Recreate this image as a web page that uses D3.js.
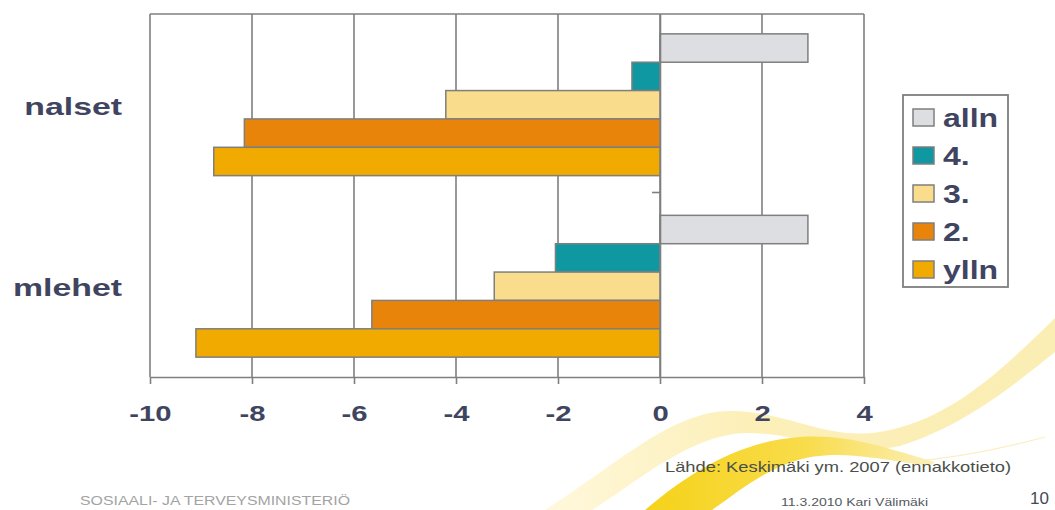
<!DOCTYPE html>
<html>
<head>
<meta charset="utf-8">
<script src="https://cdn.jsdelivr.net/npm/d3@7"></script>
<style>
  html, body { margin: 0; padding: 0; background: #ffffff; }
  svg { display: block; }
</style>
</head>
<body>
<svg id="chart" width="1055" height="510"></svg>
<script>
// Categories (top to bottom) and series (top to bottom within each group)
const categories = ["nalset", "mlehet"];
const series = ["alln", "4.", "3.", "2.", "ylln"];
// Values per series, in category order
const valuesAlln = [2.9, 2.9];
const values4 = [-0.55, -2.05];
const values3 = [-4.2, -3.25];
const values2 = [-8.15, -5.65];
const valuesYlln = [-8.75, -9.1];
const seriesValues = [valuesAlln, values4, values3, values2, valuesYlln];
const seriesColors = ["#dddee1", "#0f97a2", "#fadd8c", "#e9840b", "#f0aa00"];
const xTicks = [-10, -8, -6, -4, -2, 0, 2, 4];

(function () {
const svg = d3.select("#chart");
const textColor = "#3f4560";
const lineColor = "#7f7f7f";
const font = "Liberation Sans, Arial, sans-serif";

// ---- decorative background swooshes ----
const defs = svg.append("defs");
const gPale = defs.append("linearGradient").attr("id", "pale").attr("x1", "0").attr("x2", "1").attr("y1", "0").attr("y2", "0");
gPale.append("stop").attr("offset", "0").attr("stop-color", "#fff8dc");
gPale.append("stop").attr("offset", "0.4").attr("stop-color", "#fcefb8");
gPale.append("stop").attr("offset", "1").attr("stop-color", "#fbeeb4");
const gBright = defs.append("linearGradient").attr("id", "bright").attr("x1", "0").attr("x2", "1").attr("y1", "0").attr("y2", "0");
gBright.append("stop").attr("offset", "0").attr("stop-color", "#f6d21a");
gBright.append("stop").attr("offset", "0.55").attr("stop-color", "#f8dc4a");
gBright.append("stop").attr("offset", "1").attr("stop-color", "#fcefb8");

const deco = svg.append("g").attr("class", "decor");
deco.append("path")
  .attr("d", "M 545,510 C 620,462 675,408 735,411 C 795,414 825,440 880,432 C 950,420 1000,372 1055,318 L 1055,352 C 1010,388 965,425 900,446 C 840,458 800,432 745,433 C 690,435 640,480 592,510 Z")
  .attr("fill", "url(#pale)");
deco.append("path")
  .attr("d", "M 645,510 C 690,472 740,441 800,437 C 850,434 885,448 935,462 L 930,466 C 872,458 832,448 792,462 C 760,473 735,494 712,510 Z")
  .attr("fill", "url(#bright)");
deco.append("path")
  .attr("d", "M 905,462 C 960,458 1005,448 1045,437")
  .attr("fill", "none").attr("stroke", "#fbeec0").attr("stroke-width", 1.2);

// ---- plot geometry ----
const pLeft = 150, pRight = 864, pTop = 14, pBottom = 377;

const x = d3.scaleLinear().domain([-10, 4]).range([pLeft, pRight]);
const y0 = d3.scaleBand().domain(categories).range([pTop, pBottom]).padding(0);
const y1 = d3.scaleBand().domain(series).range([0, y0.bandwidth()]).paddingInner(0).paddingOuter(0.7);

// gridlines
const plot = svg.append("g");
plot.selectAll("line.grid").data(xTicks).join("line")
  .attr("class", "grid")
  .attr("x1", d => x(d)).attr("x2", d => x(d))
  .attr("y1", pTop).attr("y2", pBottom)
  .attr("stroke", lineColor).attr("stroke-width", 1.6);
// frame top
plot.append("line").attr("x1", pLeft).attr("x2", pRight).attr("y1", pTop).attr("y2", pTop)
  .attr("stroke", lineColor).attr("stroke-width", 1.6);

// bars
const groups = plot.selectAll("g.cat").data(categories).join("g")
  .attr("class", "cat")
  .attr("transform", c => `translate(0,${y0(c)})`);
groups.selectAll("rect").data((c, ci) => series.map((s, si) => ({ s, si, v: seriesValues[si][ci] })))
  .join("rect")
  .attr("x", d => x(Math.min(0, d.v)))
  .attr("width", d => Math.abs(x(d.v) - x(0)))
  .attr("y", d => y1(d.s))
  .attr("height", y1.bandwidth())
  .attr("fill", d => seriesColors[d.si])
  .attr("stroke", lineColor).attr("stroke-width", 1.5);

// category axis at zero (tick between categories)
const yAx = svg.append("g").attr("transform", `translate(${x(0)},0)`)
  .call(d3.axisLeft(y0).tickSize(0).tickFormat(""));
yAx.select(".domain").attr("stroke", lineColor).attr("stroke-width", 1.6);
svg.append("line")
  .attr("x1", x(0) - 8).attr("x2", x(0))
  .attr("y1", y0(categories[1]) - 3).attr("y2", y0(categories[1]) - 3)
  .attr("stroke", lineColor).attr("stroke-width", 1.6);

// x axis (labels are set in a wide face, stretched horizontally)
const xAxis = d3.axisBottom(x).tickValues(xTicks).tickSize(7).tickSizeOuter(0).tickPadding(0)
  .tickFormat(d => d < 0 ? "-" + Math.abs(d) : String(d));
const xAx = svg.append("g").attr("transform", `translate(0,${pBottom})`).call(xAxis);
xAx.select(".domain").attr("stroke", lineColor).attr("stroke-width", 1.6);
xAx.selectAll(".tick line").attr("stroke", lineColor).attr("stroke-width", 1.6);
xAx.selectAll(".tick text")
  .attr("y", 0).attr("dy", null)
  .attr("transform", "translate(0,44) scale(1.33,1)")
  .attr("fill", textColor)
  .attr("font-family", font)
  .attr("font-weight", "bold")
  .attr("font-size", 22);

// category labels
svg.selectAll("text.cat").data(categories).join("text")
  .attr("class", "cat")
  .attr("transform", c => `translate(122,${y0(c) + y0.bandwidth() / 2 + 10}) scale(1.38,1)`)
  .attr("text-anchor", "end")
  .attr("fill", textColor)
  .attr("font-family", font)
  .attr("font-weight", "bold")
  .attr("font-size", 24.5)
  .text(c => c);

// legend
const lg = svg.append("g");
lg.append("rect").attr("x", 903).attr("y", 95).attr("width", 105).attr("height", 192)
  .attr("fill", "#ffffff").attr("stroke", lineColor).attr("stroke-width", 1.8);
const items = lg.selectAll("g.item").data(series).join("g")
  .attr("class", "item")
  .attr("transform", (s, i) => `translate(913,${117.5 + i * 38})`);
items.append("rect").attr("x", 0).attr("y", -8.5).attr("width", 21).attr("height", 17)
  .attr("fill", (s, i) => seriesColors[i]).attr("stroke", lineColor).attr("stroke-width", 1.5);
items.append("text")
  .attr("transform", "translate(30,9) scale(1.28,1)")
  .attr("fill", textColor)
  .attr("font-family", font)
  .attr("font-weight", "bold")
  .attr("font-size", 25)
  .text(s => s);

// footer texts
svg.append("text").attr("x", 665).attr("y", 472)
  .attr("fill", "#4a4f4a")
  .attr("font-family", font)
  .attr("font-size", 15)
  .attr("textLength", 346).attr("lengthAdjust", "spacingAndGlyphs")
  .text("Lähde:  Keskimäki  ym.  2007  (ennakkotieto)");
svg.append("text").attr("x", 781).attr("y", 506)
  .attr("fill", "#555a60")
  .attr("font-family", font)
  .attr("font-size", 10)
  .attr("textLength", 147).attr("lengthAdjust", "spacingAndGlyphs")
  .text("11.3.2010 Kari  Välimäki");
svg.append("text").attr("x", 1030).attr("y", 504)
  .attr("fill", "#454a55")
  .attr("font-family", font)
  .attr("font-size", 17)
  .text("10");
svg.append("text").attr("x", 80).attr("y", 505)
  .attr("fill", "#a3a3a3")
  .attr("font-family", font)
  .attr("font-size", 12.5)
  .attr("textLength", 270).attr("lengthAdjust", "spacingAndGlyphs")
  .text("SOSIAALI- JA TERVEYSMINISTERIÖ");
})();
</script>
</body>
</html>
